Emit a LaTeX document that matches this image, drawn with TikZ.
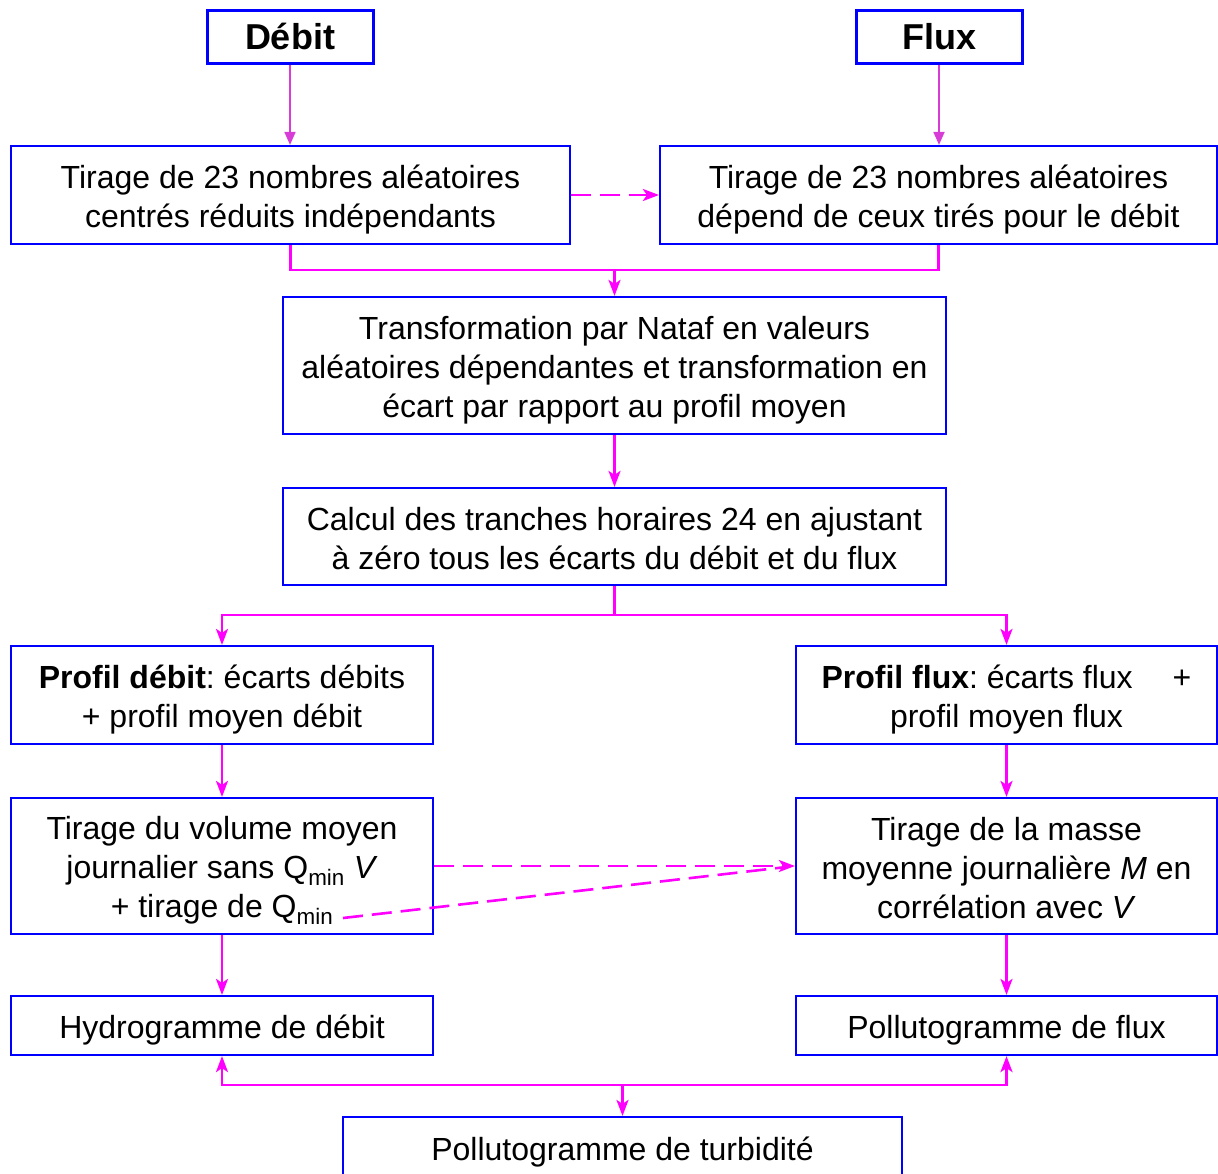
\documentclass[tikz,border=0pt]{standalone}
\usepackage{fontspec}
\setmainfont{Liberation Sans}
\usetikzlibrary{arrows.meta}
\definecolor{boxblue}{RGB}{0,0,255}
\definecolor{conn}{RGB}{255,0,255}
\definecolor{tconn}{RGB}{215,60,215}
\frenchspacing
\begin{document}
\begin{tikzpicture}[x=1pt,y=-1pt,
  box/.style={draw=boxblue, line width=2.2pt, fill=white, inner sep=0pt},
  txt/.style={align=center, inner sep=0pt, font=\fontsize{32}{39}\selectfont},
  titlebox/.style={draw=boxblue, line width=3pt, fill=white, inner sep=0pt,
    font=\fontsize{36}{40}\selectfont\bfseries},
  conline/.style={draw=conn, line width=2.6pt},
  arr/.style={conline, -{Stealth[length=16pt,width=12pt,inset=4pt]}},
  dasharr/.style={arr, dash pattern=on 20pt off 9pt},
  tarr/.style={draw=tconn, line width=1.8pt, -{Triangle[length=13pt,width=11pt]}}
]
\useasboundingbox (0,0) rectangle (1218,1173);

\node[titlebox, minimum width=166pt, minimum height=53pt] (deb) at (290,36.5) {Débit};
\node[titlebox, minimum width=166pt, minimum height=53pt] (flx) at (939,36.5) {Flux};

\node[box, minimum width=559pt, minimum height=98pt] (A) at (290.5,195) {};
\node[txt] (At) at ([yshift=-4.5pt]A.center)
  {Tirage de 23 nombres aléatoires\\centrés réduits indépendants};
\node[box, minimum width=557pt, minimum height=98pt] (B) at (938.5,195) {};
\node[txt] (Bt) at ([yshift=-4.5pt]B.center)
  {Tirage de 23 nombres aléatoires\\dépend de ceux tirés pour le débit};
\node[box, minimum width=663pt, minimum height=137pt] (C) at (614.5,365.5) {};
\node[txt] (Ct) at ([yshift=-4.5pt]C.center)
  {Transformation par Nataf en valeurs\\aléatoires dépendantes et transformation en\\écart par rapport au profil moyen};
\node[box, minimum width=663pt, minimum height=97pt] (D) at (614.5,536.5) {};
\node[txt] (Dt) at ([yshift=-2.5pt]D.center)
  {Calcul des tranches horaires 24 en ajustant\\à zéro tous les écarts du débit et du flux};
\node[box, minimum width=422pt, minimum height=98pt] (E) at (222,695) {};
\node[txt] (Et) at ([yshift=-4.5pt]E.center)
  {\textbf{Profil débit}: écarts débits\\+ profil moyen débit};
\node[box, minimum width=421pt, minimum height=98pt] (F) at (1006.5,695) {};
\node[txt] (Ft) at ([yshift=-4.5pt]F.center)
  {\textbf{Profil flux}: écarts flux\hspace{40pt}+\\profil moyen flux};
\node[box, minimum width=422pt, minimum height=136pt] (G) at (222,866) {};
\node[txt] (Gt) at ([yshift=-4.5pt]G.center)
  {Tirage du volume moyen\\journalier sans Q\textsubscript{min} \textit{V}\\+ tirage de Q\textsubscript{min}};
\node[box, minimum width=421pt, minimum height=136pt] (H) at (1006.5,866) {};
\node[txt] (Ht) at ([yshift=-2pt]H.center)
  {Tirage de la masse\\moyenne journalière \textit{M} en\\corrélation avec \textit{V}};
\node[box, minimum width=422pt, minimum height=59pt] (I) at (222,1025.5) {};
\node[txt] (It) at ([yshift=-4.5pt]I.center) {Hydrogramme de débit};
\node[box, minimum width=421pt, minimum height=59pt] (J) at (1006.5,1025.5) {};
\node[txt] (Jt) at ([yshift=-4.5pt]J.center) {Pollutogramme de flux};
\node[box, minimum width=559pt, minimum height=62pt] (K) at (622.5,1148) {};
\node[txt] (Kt) at ([yshift=-4pt]K.center) {Pollutogramme de turbidité};

% title arrows
\draw[tarr] (deb.south) -- (deb.south |- A.north);
\draw[tarr] (flx.south) -- (flx.south |- B.north);

% A -> B dashed
\draw[dasharr] (A.east) -- (B.west);

% merge
\coordinate (m) at (614.5,270);
\draw[conline] (A.south) |- (m) -| (B.south);
\draw[arr] (m) -- (C.north);

\draw[arr] (C.south) -- (D.north);

% split
\coordinate (s) at (614.5,615);
\draw[conline] (D.south) -- (s);
\draw[arr] (s) -| (E.north);
\draw[arr] (s) -| (F.north);

\draw[arr] (E.south) -- (G.north);
\draw[arr] (F.south) -- (H.north);

% dashed G -> H
\draw[dasharr] (G.east) -- (H.west);
\coordinate (qmin) at (343,918);
\coordinate (qend) at (782,867.5);
\draw[conline, dash pattern=on 20pt off 9pt] (qmin) -- (qend);

\draw[arr] (G.south) -- (I.north);
\draw[arr] (H.south) -- (J.north);

% bottom
\coordinate (b) at (622.5,1085);
\draw[arr] (b) -| (I.south);
\draw[arr] (b) -| (J.south);
\draw[arr] (b) -- (K.north);
\end{tikzpicture}
\end{document}
